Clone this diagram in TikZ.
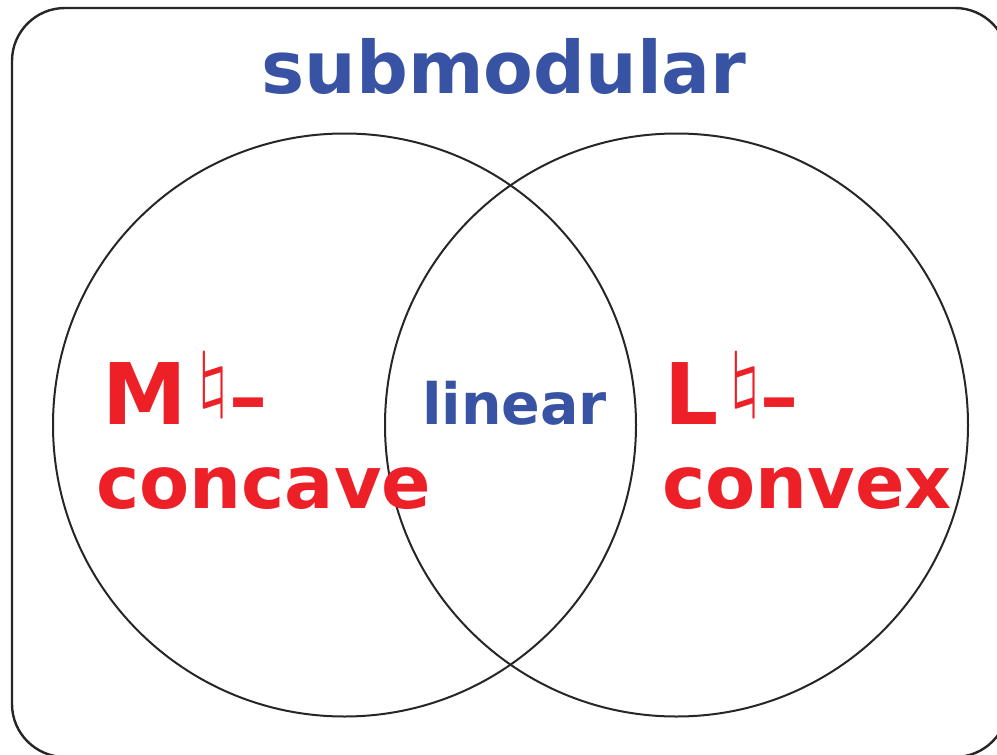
\documentclass[tikz,border=0pt]{standalone}
\usepackage{fontspec}
\newfontfamily\labfont{DejaVu Sans}
\definecolor{setblue}{HTML}{3953A4}
\definecolor{setred}{HTML}{EE2027}
% natural sign raised as a superscript, followed by a dash
\newcommand{\natdash}{\kern10pt\raisebox{21pt}{\fontsize{10}{10}\selectfont\scalebox{8.6}[7.2]{$\natural$}}\kern-1pt\raisebox{1pt}{\fontsize{76}{76}\selectfont\char"2013}}
\begin{document}
\begin{tikzpicture}[x=1pt,y=-1pt,
  setring/.style={draw=black!85,line width=2pt,circle,minimum size=583pt,inner sep=0pt},
  frame/.style={draw=black!85,line width=2.4pt,rounded corners=53pt},
  bluelab/.style={text=setblue,inner sep=0pt},
  redlab/.style={text=setred,inner sep=0pt}]
\useasboundingbox (0,0) rectangle (997,755);
% outer frame, partly beyond the right and bottom edges
\draw[frame] (12,8) rectangle (1008,757);
% the two overlapping sets
\node[setring] (mset) at (344.5,425) {};
\node[setring] (lset) at (676.5,425) {};
% labels
\node[bluelab,anchor=base,font=\labfont\bfseries\fontsize{72.5}{72.5}\selectfont] (sub) at (504,93) {submodular};
\node[bluelab,anchor=base,font=\labfont\bfseries\fontsize{57}{57}\selectfont] (lin) at (514.5,424) {linear};
\node[redlab,anchor=base west,font=\labfont\bfseries\fontsize{85}{85}\selectfont] (mnat) at (102,424) {M\natdash};
\node[redlab,anchor=base west,font=\labfont\bfseries\fontsize{73}{73}\selectfont] (conc) at (96,508) {concave};
\node[redlab,anchor=base west,font=\labfont\bfseries\fontsize{85}{85}\selectfont] (lnat) at (664,424) {L\natdash};
\node[redlab,anchor=base west,font=\labfont\bfseries\fontsize{73}{73}\selectfont] (conv) at (662,508) {convex};
\end{tikzpicture}
\end{document}
